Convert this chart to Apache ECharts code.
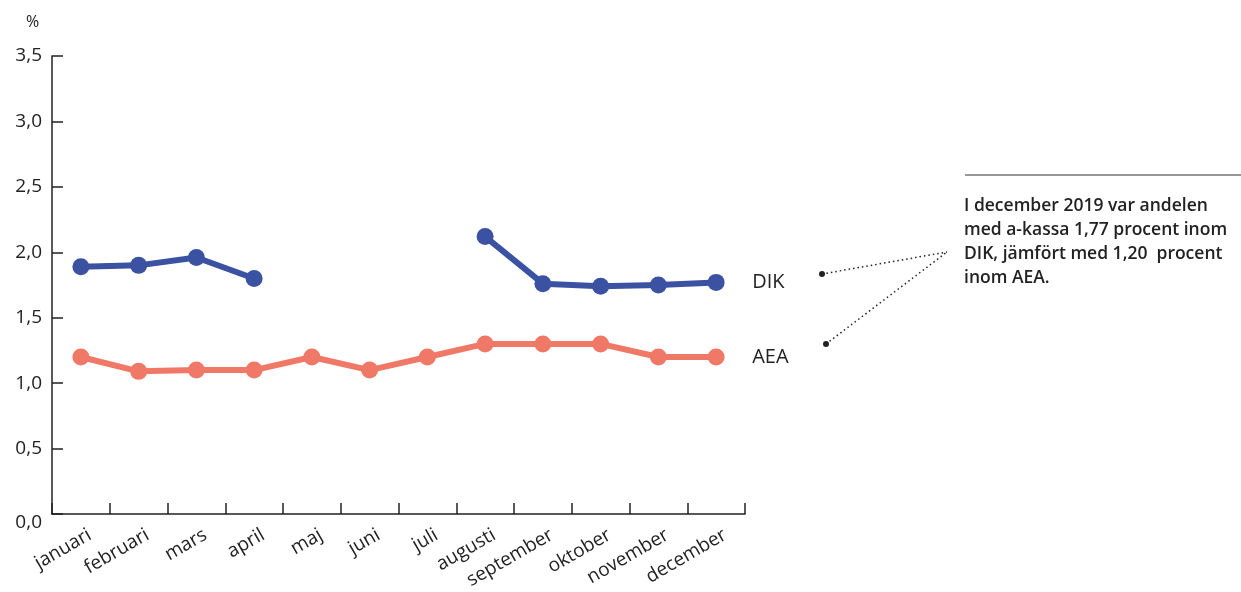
<!DOCTYPE html>
<html><head><meta charset="utf-8">
<script src="https://cdn.jsdelivr.net/npm/echarts@6/dist/echarts.min.js"></script>
<style>html,body{margin:0;padding:0;background:#fff}#c{width:1241px;height:592px}</style>
</head><body><div id="c"></div>
<script>
const months = ['januari','februari','mars','april','maj','juni','juli','augusti','september','oktober','november','december'];
const dik = [1.89, 1.90, 1.96, 1.80, null, null, null, 2.12, 1.76, 1.74, 1.75, 1.77];
const aea = [1.20, 1.09, 1.10, 1.10, 1.20, 1.10, 1.20, 1.30, 1.30, 1.30, 1.20, 1.20];
const yTicks = [0, 0.5, 1.0, 1.5, 2.0, 2.5, 3.0, 3.5];
const seriesNames = ['DIK', 'AEA'];
const noteLines = ['I december 2019 var andelen', 'med a-kassa 1,77 procent inom', 'DIK, jämfört med 1,20  procent', 'inom AEA.'];

const FONT = '"Open Sans", "Noto Sans", sans-serif';
const chart = echarts.init(document.getElementById('c'));
const lineSeries = (name, data, color) => ({
  name, type: 'line', data, connectNulls: false,
  symbol: 'circle', symbolSize: 17,
  lineStyle: { color, width: 6 }, itemStyle: { color },
  endLabel: { show: true, formatter: name, distance: 36, color: '#222', fontSize: 20, fontFamily: FONT },
  emphasis: { disabled: true }, animation: false
});
chart.setOption({
  animation: false,
  grid: { left: 52, right: 496, top: 56, bottom: 78, containLabel: false, outerBoundsMode: 'none' },
  xAxis: {
    type: 'category', data: months, boundaryGap: true,
    axisLine: { lineStyle: { color: '#222', width: 1.5 } },
    axisTick: { show: true, inside: true, length: 11, lineStyle: { color: '#222', width: 1.5 } },
    axisLabel: { rotate: 30, fontSize: 19, color: '#222', fontFamily: FONT, margin: 4, interval: 0,
      verticalAlign: 'top', lineHeight: 36 }
  },
  yAxis: {
    type: 'value', min: yTicks[0], max: yTicks[yTicks.length - 1], interval: 0.5,
    axisLine: { show: true, lineStyle: { color: '#222', width: 1.5 } },
    axisTick: { show: true, inside: true, length: 11, lineStyle: { color: '#222', width: 1.5 } },
    splitLine: { show: false },
    axisLabel: { fontSize: 19, color: '#222', fontFamily: FONT, margin: 10,
      formatter: v => v === 0 ? '{z|0,0}' : v.toFixed(1).replace('.', ','),
      rich: { z: { fontSize: 19, color: '#222', fontFamily: FONT, padding: [18, 0, 0, 0] } } }
  },
  series: [lineSeries(seriesNames[0], dik, '#3b52a3'), lineSeries(seriesNames[1], aea, '#ef7867')],
  graphic: [
    { type: 'text', left: 26, top: 14, style: { text: '%', fontSize: 16, fill: '#222', fontFamily: FONT } },
    { type: 'line', shape: { x1: 965, y1: 175, x2: 1241, y2: 175 }, style: { stroke: '#333', lineWidth: 1 } },
    { type: 'text', left: 964, top: 194, style: { text: noteLines.join('\n'), fontSize: 17.5, lineHeight: 24, fontWeight: 600, fill: '#222', fontFamily: FONT } },
    { type: 'line', shape: { x1: 822, y1: 274, x2: 947, y2: 252 }, style: { stroke: '#222', lineWidth: 1.5, lineDash: [1.5, 3] } },
    { type: 'line', shape: { x1: 826, y1: 344, x2: 947, y2: 252 }, style: { stroke: '#222', lineWidth: 1.5, lineDash: [1.5, 3] } },
    { type: 'circle', shape: { cx: 822, cy: 274, r: 3 }, style: { fill: '#222' } },
    { type: 'circle', shape: { cx: 826, cy: 344, r: 3 }, style: { fill: '#222' } }
  ]
});
</script></body></html>
